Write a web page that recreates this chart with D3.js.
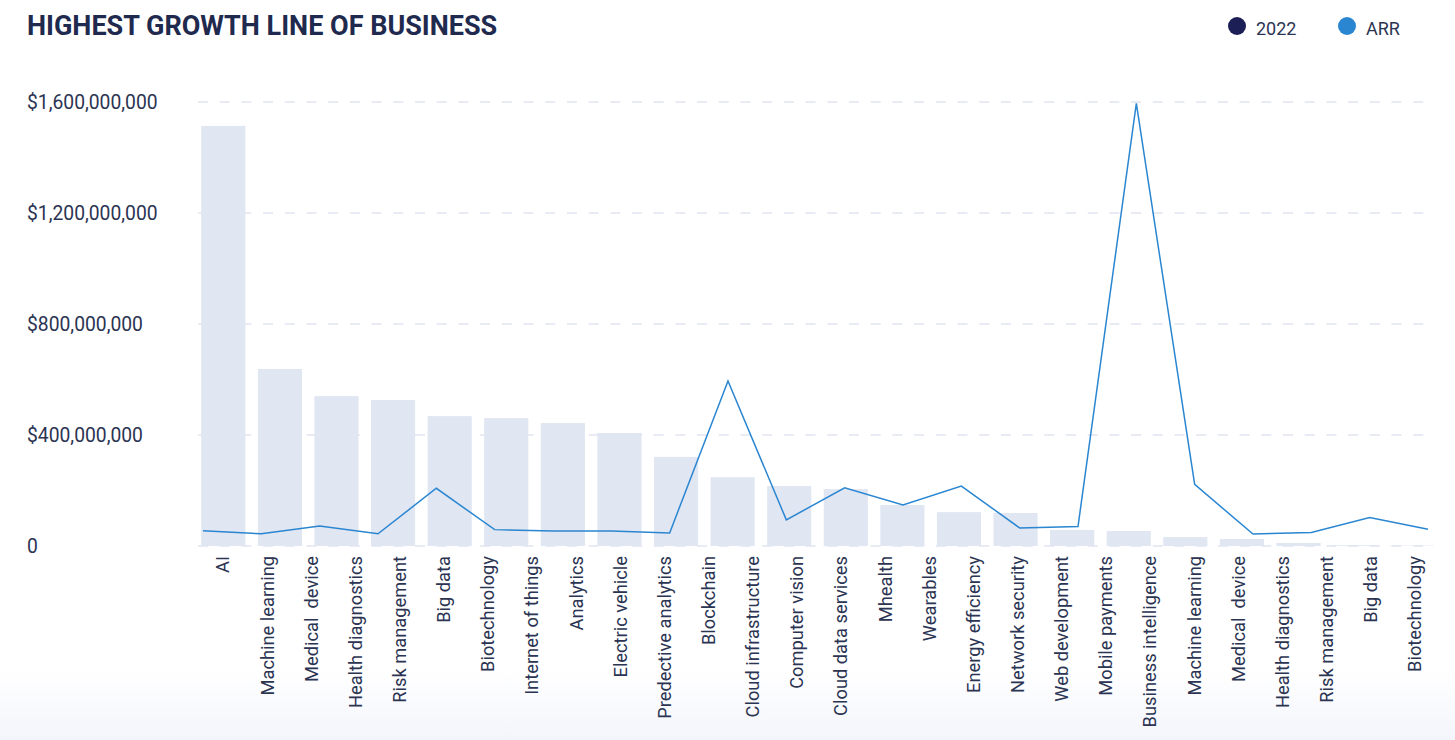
<!DOCTYPE html>
<html><head><meta charset="utf-8">
<script src="https://cdn.jsdelivr.net/npm/d3@7"></script>
<style>
html,body{margin:0;padding:0;background:#fff;}
svg{display:block;font-family:Roboto,"Noto Sans",sans-serif;}
</style></head>
<body>
<svg id="chart" width="1455" height="740"></svg>
<script>
// ---- data ----
const axisLabels = ["AI","Machine learning","Medical  device","Health diagnostics","Risk management","Big data","Biotechnology","Internet of things","Analytics","Electric vehicle","Predective analytics","Blockchain","Cloud infrastructure","Computer vision","Cloud data services","Mhealth","Wearables","Energy efficiency","Network security","Web development","Mobile payments","Business intelligence","Machine learning","Medical  device","Health diagnostics","Risk management","Big data","Biotechnology"];
const categories = axisLabels.slice(0, 22);
const values2022 = [1514e6, 638e6, 540e6, 526e6, 468e6, 461e6, 443e6, 407e6, 321e6, 248e6, 216e6, 205e6, 148e6, 122e6, 119e6, 58e6, 54e6, 32e6, 25e6, 11e6, 3e6, 1.5e6];
const valuesARR = [55e6, 44e6, 72e6, 44e6, 208e6, 59e6, 54e6, 54e6, 47e6, 595e6, 94e6, 210e6, 148e6, 216e6, 65e6, 70e6, 1595e6, 222e6, 43e6, 49e6, 103e6, 60e6];
const yTicks = [0, 400e6, 800e6, 1200e6, 1600e6];
const seriesNames = ["2022", "ARR"];
const seriesColors = ["#1b1f55", "#2a86d1"];

const svg = d3.select("#chart");
const W = 1455, H = 740;

// bottom gradient background
const defs = svg.append("defs");
const grad = defs.append("linearGradient").attr("id","bg").attr("x1",0).attr("x2",0).attr("y1",0).attr("y2",1);
grad.append("stop").attr("offset","0%").attr("stop-color","#ffffff");
grad.append("stop").attr("offset","100%").attr("stop-color","#f3f5fb");
svg.append("rect").attr("x",0).attr("y",670).attr("width",W).attr("height",70).attr("fill","url(#bg)");

const y = d3.scaleLinear().domain([0, 1600e6]).range([546, 102]);
const xBar = d3.scaleBand().domain(d3.range(categories.length)).range([195, 1440]).paddingInner(0.22).paddingOuter(0.11);
const xLine = d3.scalePoint().domain(d3.range(categories.length)).range([203, 1428]).padding(0);
const xLab = d3.scaleBand().domain(d3.range(axisLabels.length)).range([201, 1437]);

// title
svg.append("text").attr("x",27).attr("y",35).text("HIGHEST GROWTH LINE OF BUSINESS")
  .attr("font-size",27).attr("font-weight",700).attr("fill","#1f2a4e");

// legend
const leg = svg.append("g");
const legX = [1237, 1347];
seriesNames.forEach((n,i)=>{
  leg.append("circle").attr("cx",legX[i]).attr("cy",26).attr("r",9).attr("fill",seriesColors[i]);
  leg.append("text").attr("x",legX[i]+19).attr("y",35).text(n).attr("font-size",18).attr("fill","#2b3452");
});

// grid
const grid = svg.append("g");
grid.selectAll("line").data(yTicks).join("line")
  .attr("x1",198).attr("x2",1430).attr("y1",d=>y(d)).attr("y2",d=>y(d))
  .attr("stroke","#e1e5ef").attr("stroke-width",1.5).attr("stroke-dasharray","10,11.7");

// y labels
const yAxis = d3.axisLeft(y).tickValues(yTicks).tickSize(0).tickPadding(0)
  .tickFormat(d=> d===0 ? "0" : "$" + d3.format(",")(d));
const ya = svg.append("g").attr("transform","translate(27,0)").call(yAxis);
ya.select(".domain").remove();
ya.selectAll("text").attr("text-anchor","start").attr("font-size",19.3).attr("fill","#2b3452")
  .attr("font-family","Roboto,sans-serif");

// bars
svg.append("g").selectAll("rect").data(values2022).join("rect")
  .attr("x",(d,i)=>xBar(i)).attr("width",xBar.bandwidth())
  .attr("y",d=>y(d)).attr("height",d=>y(0)-y(d)).attr("fill","#e0e6f2");

// line
const line = d3.line().x((d,i)=>xLine(i)).y(d=>y(d));
svg.append("path").datum(valuesARR).attr("d",line).attr("fill","none")
  .attr("stroke","#2a86d1").attr("stroke-width",1.5).attr("stroke-linejoin","miter");

// x labels
const xAxis = d3.axisBottom(xLab).tickSize(0).tickFormat(i=>axisLabels[i]);
const xa = svg.append("g").attr("transform","translate(0,556)").call(xAxis);
xa.select(".domain").remove();
xa.selectAll("text").attr("transform","rotate(-90)").attr("text-anchor","end")
  .attr("x",0).attr("y",0).attr("dy","0.35em").style("white-space","pre")
  .attr("font-size",18.3).attr("fill","#2b3452").attr("font-family","Roboto,sans-serif");
</script>
</body></html>
